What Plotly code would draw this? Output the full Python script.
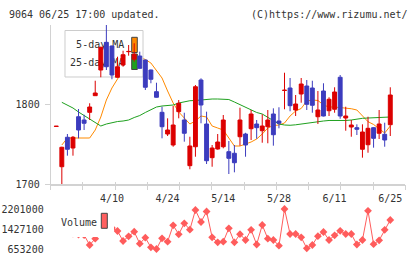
import plotly.graph_objects as go

# ---------------- data ----------------
tick_idx = [10, 20, 30, 40, 50, 60]
tick_text = ["4/10", "4/24", "5/14", "5/28", "6/11", "6/25"]

opens = [1771.9, 1721.6, 1758.4, 1745.0, 1784.1, 1780.0, 1789.6, 1810.4, 1842.5, 1877.1,
         1872.5, 1833.4, 1848.75, 1865.4, 1855.9, 1860.0, 1855.0, 1842.5, 1815.4, 1789.6,
         1762.5, 1748.75, 1790.4, 1780.0, 1722.9, 1746.6, 1830.0, 1775.0, 1732.9, 1743.75,
         1746.6, 1740.4, 1738.4, 1759.1, 1762.5, 1769.1, 1775.0, 1766.6, 1771.6, 1787.5,
         1778.75, 1816.9, 1820.0, 1792.5, 1812.5, 1822.5, 1820.0, 1784.1, 1816.25, 1791.6,
         1793.4, 1833.4, 1782.5, 1771.25, 1770.4, 1743.4, 1749.1, 1770.4, 1763.4, 1762.1,
         1774.1]
highs = [1772.2, 1746.6, 1762.5, 1760.0, 1793.75, 1786.6, 1800.9, 1829.1, 1871.6, 1898.75,
         1873.0, 1859.1, 1866.6, 1873.75, 1875.9, 1865.4, 1855.5, 1843.0, 1826.6, 1796.6,
         1782.1, 1797.5, 1805.0, 1789.1, 1759.1, 1823.75, 1832.1, 1790.4, 1748.75, 1762.5,
         1786.25, 1753.75, 1748.75, 1795.4, 1764.0, 1792.5, 1780.0, 1787.1, 1792.5, 1794.6,
         1795.9, 1839.1, 1832.5, 1811.25, 1832.5, 1830.0, 1829.1, 1816.25, 1825.9, 1808.4,
         1820.9, 1836.25, 1796.6, 1780.0, 1774.6, 1774.6, 1784.1, 1771.0, 1792.5, 1776.6,
         1820.9]
lows = [1771.9, 1700.0, 1735.4, 1735.4, 1757.1, 1767.5, 1780.0, 1810.4, 1833.4, 1842.5,
        1830.9, 1833.0, 1846.6, 1860.4, 1853.0, 1844.0, 1817.5, 1825.9, 1808.0, 1757.1,
        1760.0, 1746.6, 1782.1, 1752.9, 1718.4, 1734.1, 1775.9, 1725.0, 1721.6, 1743.0,
        1744.6, 1712.5, 1714.6, 1747.9, 1734.1, 1755.0, 1756.6, 1751.6, 1750.9, 1747.9,
        1769.6, 1793.4, 1790.9, 1785.0, 1801.6, 1792.5, 1789.1, 1775.0, 1784.5, 1785.0,
        1789.1, 1781.6, 1766.6, 1759.1, 1761.25, 1732.9, 1739.1, 1745.4, 1756.25, 1746.6,
        1760.0]
closes = [1772.2, 1745.9, 1743.4, 1758.4, 1767.5, 1775.9, 1796.25, 1813.75, 1870.9, 1846.6,
          1836.25, 1846.6, 1861.6, 1865.7, 1862.1, 1844.6, 1820.9, 1830.9, 1808.4, 1771.6,
          1767.5, 1773.75, 1800.9, 1763.4, 1747.5, 1821.6, 1798.75, 1729.1, 1745.0, 1752.5,
          1780.0, 1732.1, 1726.6, 1780.0, 1748.75, 1787.5, 1770.4, 1772.5, 1780.0, 1761.6,
          1775.9, 1817.2, 1797.9, 1800.0, 1825.0, 1799.6, 1798.4, 1792.5, 1785.0, 1805.9,
          1815.0, 1785.0, 1785.0, 1773.75, 1768.4, 1765.0, 1769.6, 1757.1, 1775.0, 1755.0,
          1811.25]
ma5 = [None, 1748.75, 1757.5, 1757.5, 1757.5, 1757.5, 1757.5, 1767.5, 1783.75, 1805.0,
       1820.0, 1831.25, 1842.5, 1851.25, 1857.5, 1858.75, 1855.6, 1851.25, 1842.5, 1832.5,
       1816.25, 1801.25, 1790.0, 1782.5, 1775.0, 1778.75, 1785.0, 1783.75, 1772.5, 1770.0,
       1767.5, 1757.5, 1747.5, 1747.5, 1750.0, 1752.5, 1756.25, 1762.5, 1770.0, 1773.1,
       1773.75, 1776.25, 1785.0, 1791.25, 1794.4, 1803.75, 1805.0, 1804.4, 1798.75, 1796.25,
       1796.25, 1795.6, 1795.0, 1794.1, 1792.5, 1785.0, 1777.9, 1774.4, 1768.75, 1763.75,
       1772.5]
ma25 = [None, 1802.1, 1798.75, 1795.0, 1790.0, 1785.6, 1781.25, 1776.9, 1772.5, 1775.0,
        1776.9, 1778.1, 1778.75, 1780.0, 1783.1, 1785.6, 1789.4, 1793.1, 1796.25, 1797.5,
        1798.1, 1798.75, 1801.25, 1803.1, 1804.1, 1804.4, 1805.0, 1806.25, 1806.25, 1806.25,
        1805.9, 1805.6, 1802.5, 1799.4, 1795.6, 1792.5, 1789.4, 1787.5, 1783.1, 1778.75,
        1775.0, 1773.75, 1773.4, 1774.0, 1775.0, 1776.6, 1777.5, 1778.4, 1778.75, 1779.4,
        1779.4, 1778.75, 1779.4, 1780.0, 1781.25, 1782.1, 1782.5, 1782.9, 1783.4, 1783.4,
        1783.75]
volume = [1550000, 1300000, 1400000, 1250000, 1214000, 1195000, 808000, 1051800, 1465800, 1698000,
          1466000, 1349700, 962800, 1144600, 1322600, 858300, 1090500, 719000, 653200, 1067200,
          935700, 1570300, 1222000, 1647700, 1400000, 2162300, 1698000, 2104300, 1105900, 912500,
          935700, 1454200, 912500, 1225900, 1001500, 1396100, 827300, 1581900, 1051800, 1001500,
          780900, 2201000, 1233600, 1233600, 1105900, 680300, 808000, 1148500, 1311000, 1001500,
          1183300, 1357500, 1233600, 1233600, 827300, 1001500, 2131300, 838900, 989800, 1396100,
          1775400]
vol_ticks = [653200, 1427100, 2201000]
price_ticks = [1700, 1800]
ma_names = ["5-day MA", "25-day MA"]

# ---------------- style ----------------
W, H = 420, 259
FONT = "DejaVu Sans Mono"
TXT = "#333333"
AX = "#d2d2d2"
RED = "#dc0000"
BLUE = "#3c3cbe"
ORANGE = "#ff8a00"
GREEN = "#1ea01e"
VOLC = "#ff5c5c"

def px(xp):
    return xp / W

def py(yp):
    return 1 - yp / H

XR = [-1.0, 62.7]
YR = [1700, 1898.75]
xdom = [px(50.7), px(405.3)]
ydom = [py(184), py(25)]
vdom = [py(249), py(209)]

idx = list(range(len(opens)))

fig = go.Figure()

# moving averages (main subplot, drawn first)
fig.add_trace(go.Scatter(x=idx, y=ma5, mode="lines", line=dict(color=ORANGE, width=1),
                         xaxis="x", yaxis="y", hoverinfo="skip"))
fig.add_trace(go.Scatter(x=idx, y=ma25, mode="lines", line=dict(color=GREEN, width=1),
                         xaxis="x", yaxis="y", hoverinfo="skip"))

# legend box (overlay subplot in unit coordinates, above MA lines, below candles)
def rect(x0, x1, y0, y1):
    return [x0, x1, x1, x0, x0], [y0, y0, y1, y1, y0]

bx, by = rect(0.0403, 0.2603, 0.673, 0.9654)
fig.add_trace(go.Scatter(x=bx, y=by, mode="lines", fill="toself", fillcolor="white",
                         line=dict(color="#cccccc", width=1), xaxis="x2", yaxis="y2",
                         hoverinfo="skip"))
for (y0, y1), c in zip([(0.827, 0.9226), (0.7201, 0.8176)], [ORANGE, GREEN]):
    sx, sy = rect(0.2284, 0.2442, y0, y1)
    fig.add_trace(go.Scatter(x=sx, y=sy, mode="lines", fill="toself", fillcolor=c,
                             line=dict(color="#444444", width=1), xaxis="x2", yaxis="y2",
                             hoverinfo="skip"))
fig.add_trace(go.Scatter(x=[0.2075, 0.2075], y=[0.868, 0.761], mode="text", text=ma_names,
                         textposition="middle left", textfont=dict(family=FONT, size=10, color=TXT),
                         xaxis="x2", yaxis="y2", hoverinfo="skip"))

# candles (overlay subplot drawn above the legend box)
fig.add_trace(go.Candlestick(x=idx, open=opens, high=highs, low=lows, close=closes,
                             increasing=dict(line=dict(color=RED, width=1), fillcolor=RED),
                             decreasing=dict(line=dict(color=BLUE, width=1), fillcolor=BLUE),
                             whiskerwidth=0, xaxis="x3", yaxis="y3", hoverinfo="skip"))

# volume
fig.add_trace(go.Scatter(x=idx, y=volume, mode="lines+markers",
                         line=dict(color=VOLC, width=1),
                         marker=dict(symbol="diamond", size=6, color=VOLC),
                         cliponaxis=False, xaxis="x4", yaxis="y4", hoverinfo="skip"))

tickfont = dict(family=FONT, size=10, color=TXT)
n_grid = 11
x3_ticks = [XR[0] + k * (XR[1] - XR[0]) / n_grid for k in range(n_grid + 1)]

fig.update_layout(
    width=W, height=H, margin=dict(l=0, r=0, t=0, b=0, autoexpand=False),
    paper_bgcolor="white", plot_bgcolor="rgba(0,0,0,0)",
    showlegend=False, boxgap=0.3, boxgroupgap=0,
    xaxis=dict(domain=xdom, range=XR, anchor="y", tickmode="array", tickvals=tick_idx,
               ticktext=tick_text, ticks="", showline=True, linecolor=AX, linewidth=2,
               showgrid=False, zeroline=False, tickfont=tickfont, ticklabelstandoff=4,
               automargin=False),
    yaxis=dict(domain=ydom, range=YR, anchor="x", tickmode="array", tickvals=price_ticks,
               ticks="outside", ticklen=5, tickcolor=AX, showline=True, linecolor=AX,
               linewidth=1, showgrid=False, zeroline=False, tickfont=tickfont,
               ticklabelstandoff=3, automargin=False),
    xaxis2=dict(overlaying="x", range=[0, 1], anchor="y2", tickmode="array",
                tickvals=[k / n_grid for k in range(n_grid + 1)], ticks="outside", ticklen=5,
                tickcolor=AX, showticklabels=False, showline=False, showgrid=False,
                zeroline=False, automargin=False),
    yaxis2=dict(overlaying="y", range=[0, 1], anchor="x2", visible=False, automargin=False),
    xaxis3=dict(overlaying="x", range=XR, anchor="y3", tickmode="array", tickvals=x3_ticks,
                ticks="inside", ticklen=2, tickcolor=AX, showticklabels=False, showline=False,
                showgrid=False, zeroline=False, rangeslider=dict(visible=False),
                automargin=False),
    yaxis3=dict(overlaying="y", range=YR, anchor="x3", visible=False, automargin=False),
    xaxis4=dict(domain=xdom, range=XR, anchor="y4", visible=False, automargin=False),
    yaxis4=dict(domain=vdom, range=[vol_ticks[0], vol_ticks[-1]], anchor="x4",
                tickmode="array", tickvals=vol_ticks, ticktext=[str(v) for v in vol_ticks],
                ticks="", showline=False, showgrid=False, zeroline=False, tickfont=tickfont,
                ticklabelstandoff=6, automargin=False),
)

# volume legend (white box covering the start of the volume line)
fig.add_shape(type="rect", xref="paper", yref="paper", x0=px(52), x1=px(114),
              y0=py(237), y1=py(204), fillcolor="white", line=dict(width=0), layer="above")
fig.add_shape(type="rect", xref="paper", yref="paper", x0=px(101.3), x1=px(107.3),
              y0=py(228.3), y1=py(213.3), fillcolor="#ff6060",
              line=dict(color="#444444", width=1), layer="above")
fig.add_annotation(text="Volume", xref="paper", yref="paper", x=px(58.5), y=py(222),
                   xanchor="left", yanchor="middle", showarrow=False,
                   font=dict(family=FONT, size=10, color=TXT))

# header texts
fig.add_annotation(text="9064 06/25 17:00 updated.", xref="paper", yref="paper",
                   x=px(6.5), y=py(14), xanchor="left", yanchor="middle", showarrow=False,
                   font=dict(family=FONT, size=10, color=TXT))
fig.add_annotation(text="(C)https://www.rizumu.net/", xref="paper", yref="paper",
                   x=px(410), y=py(14), xanchor="right", yanchor="middle", showarrow=False,
                   font=dict(family=FONT, size=10, color=TXT))

fig.write_html("out.html")
